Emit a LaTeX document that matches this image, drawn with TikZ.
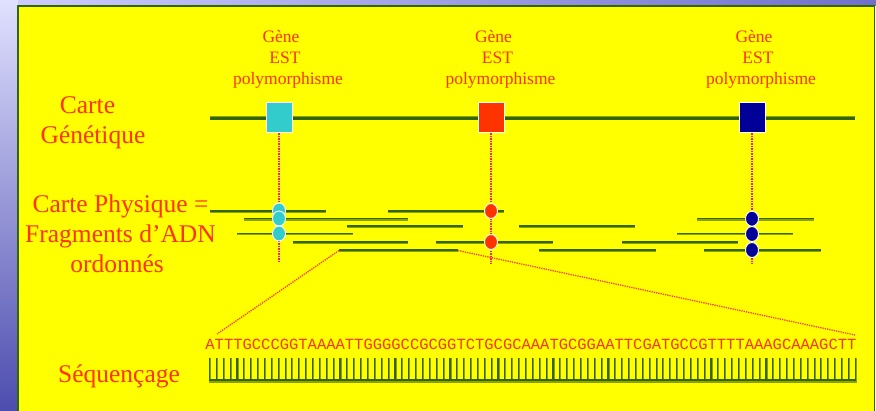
\documentclass[tikz,border=0pt]{standalone}
\usepackage{fontspec}
\setmainfont{Liberation Serif}
\newfontfamily\seqfont{Liberation Mono}
\usetikzlibrary{shapes.geometric}
\definecolor{bgyellow}{HTML}{FFFF00}
\definecolor{dkgreen}{HTML}{336600}
\definecolor{olive}{HTML}{8CA000}
\definecolor{txtred}{HTML}{FF3300}
\definecolor{gcyan}{HTML}{33CCCC}
\definecolor{gred}{HTML}{FF3300}
\definecolor{gnavy}{HTML}{000099}
\definecolor{dotpink}{HTML}{FF1A66}
\definecolor{dotorange}{HTML}{FF3A2A}
\tikzset{
  lbl/.style={text=txtred, inner sep=0pt, anchor=base},
  small/.style={lbl, font=\fontsize{17.5}{20}\selectfont},
  big/.style={lbl, font=\fontsize{25.5}{30}\selectfont},
  gsq/.style={draw=white, line width=1pt, minimum width=26pt, minimum height=30pt, inner sep=0pt},
  gdot/.style={ellipse, draw=white, line width=0.9pt, minimum width=13pt, minimum height=15pt, inner sep=0pt},
  vdot/.style={dotpink, line width=1.5pt, densely dotted},
  zdot/.style={dotorange, line width=1.3pt, densely dotted},
  fragshadow/.style={olive, line width=2.4pt},
  frag/.style={dkgreen, line width=1.6pt},
}
\newcommand{\fragline}[3]{%
  \draw[fragshadow] (#1,#3+0.7) -- (#2,#3+0.7);
  \draw[frag] (#1,#3) -- (#2,#3);}
\begin{document}
\begin{tikzpicture}[x=1pt,y=-1pt]
\useasboundingbox (0,0) rectangle (876,411);
% background outside the slide
\fill[top color=white!70!blue!40, bottom color=blue!55!black!70] (0,0) rectangle (18,411);
\fill[left color=blue!20!white, right color=blue!45!white!80!black] (18,0) rectangle (876,6);
\filldraw[fill=bgyellow, draw=dkgreen, line width=1.3pt] (18,6) rectangle (874.5,416);

% labels top
\foreach \x/\n in {288/a, 500.5/b, 761/c}{
  \node[small] (gene\n) at (\x,43) {Gène\hspace*{14pt}};
  \node[small] (est\n) at (\x,64) {EST\hspace*{6pt}};
  \node[small] (poly\n) at (\x,85) {polymorphisme};
}

% left labels
\node[big] (carte) at (87.5,114) {Carte};
\node[big] (genet) at (93,144) {Génétique};
\node[big] (cphys) at (120.5,213) {Carte Physique =};
\node[big] (frag) at (120.5,243) {Fragments d’ADN};
\node[big] (ordo) at (117,273) {ordonnés};
\node[big] (seq) at (119,383) {Séquençage};

% genetic map
\coordinate (gl) at (210,118.5);
\coordinate (gr) at (855,118.5);
\draw[olive, line width=3.4pt] ([yshift=0.6pt]gl) -- ([yshift=0.6pt]gr);
\draw[dkgreen, line width=2.6pt] (gl) -- (gr);
\node[gsq, fill=gcyan] (g1) at (279,118) {};
\node[gsq, fill=gred] (g2) at (491,118) {};
\node[gsq, fill=gnavy] (g3) at (752,118) {};

% vertical dotted lines
\coordinate (e1) at (279,263);
\coordinate (e2) at (491,264);
\coordinate (e3) at (752,264);
\draw[vdot] (g1.south) -- (e1);
\draw[vdot] (g2.south) -- (e2);
\draw[vdot] (g3.south) -- (e3);

% fragments
\fragline{210}{326}{211}
\fragline{388}{504}{211}
\fragline{244}{408}{218.7}
\fragline{697}{814}{218.7}
\fragline{347}{463}{226}
\fragline{519}{635}{226}
\fragline{237}{353}{233.5}
\fragline{677}{793}{233.5}
\fragline{293}{408}{242}
\fragline{436}{553}{242}
\fragline{622}{738}{242}
\fragline{339}{458}{250}
\fragline{539}{656}{250}
\fragline{704}{821}{250}

% zoom lines
\coordinate (zl) at (339,250.5);
\coordinate (zr) at (458,250.5);
\coordinate (zl2) at (217,334);
\coordinate (zr2) at (855,335);
\draw[zdot] (zl) -- (zl2);
\draw[zdot] (zr) -- (zr2);

% dots
\node[gdot, fill=gcyan] (c1) at (279,210.5) {};
\node[gdot, fill=gcyan] (c2) at (279,218.5) {};
\node[gdot, fill=gcyan] (c3) at (279,233.5) {};
\node[gdot, fill=gred] (r1) at (491,211) {};
\node[gdot, fill=gred] (r2) at (491,242) {};
\node[gdot, fill=gnavy] (n1) at (752,218.7) {};
\node[gdot, fill=gnavy] (n2) at (752,234) {};
\node[gdot, fill=gnavy] (n3) at (752,250) {};

% sequence
\node[lbl, font=\seqfont\fontsize{15.5}{18}\selectfont] (dna) at (531,350) {ATTTGCCCGGTAAAATTGGGGCCGCGGTCTGCGCAAATGCGGAATTCGATGCCGTTTTAAAGCAAAGCTT};

% comb
\foreach \i in {0,...,94}{
  \draw[olive, line width=1.3pt] (209.5+\i*6.87+0.9,358) -- (209.5+\i*6.87+0.9,381);
  \draw[dkgreen, line width=1.1pt] (209.5+\i*6.87,358) -- (209.5+\i*6.87,381);
}
\draw[olive, line width=2.6pt] (209,381.5) -- (856.5,381.5);
\draw[dkgreen, line width=2pt] (209,380.5) -- (856,380.5);
\end{tikzpicture}
\end{document}
